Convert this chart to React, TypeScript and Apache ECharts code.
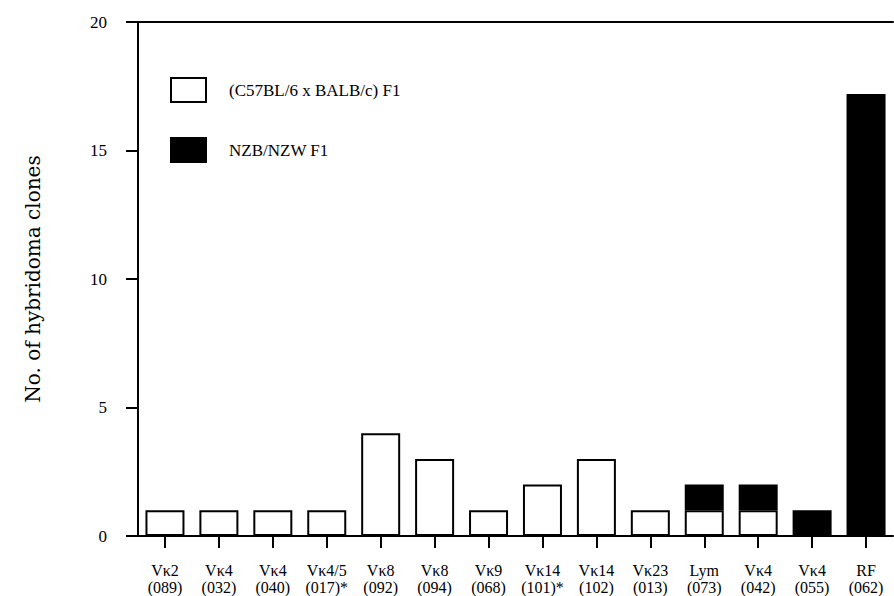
import React, { useEffect, useRef } from "react";
import * as echarts from "echarts";

const categories = [
  "Vκ2\n(089)",
  "Vκ4\n(032)",
  "Vκ4\n(040)",
  "Vκ4/5\n(017)*",
  "Vκ8\n(092)",
  "Vκ8\n(094)",
  "Vκ9\n(068)",
  "Vκ14\n(101)*",
  "Vκ14\n(102)",
  "Vκ23\n(013)",
  "Lym\n(073)",
  "Vκ4\n(042)",
  "Vκ4\n(055)",
  "RF\n(062)",
];

const c57Values = [1, 1, 1, 1, 4, 3, 1, 2, 3, 1, 1, 1, null, null];
const nzbValues = [null, null, null, null, null, null, null, null, null, null, 1, 1, 1, 17.2];

const seriesNames = ["(C57BL/6 x BALB/c) F1", "NZB/NZW F1"];
const yTicks = { min: 0, max: 20, interval: 5 };

const SERIF = "'Liberation Serif', 'Times New Roman', serif";

export default function App() {
  const ref = useRef<HTMLDivElement>(null);

  useEffect(() => {
    if (!ref.current) return;
    const chart = echarts.init(ref.current, null, { renderer: "svg" });
    chart.setOption({
      animation: false,
      backgroundColor: "#ffffff",
      grid: { left: 138, right: 1, top: 22, bottom: 60, containLabel: false },
      legend: {
        orient: "vertical",
        left: 170,
        top: 77,
        padding: 0,
        itemWidth: 35,
        itemHeight: 24,
        itemGap: 34,
        icon: "rect",
        selectedMode: false,
        textStyle: {
          fontFamily: SERIF,
          fontSize: 17,
          color: "#000",
          padding: [0, 0, 0, 18],
        },
        data: seriesNames,
      },
      xAxis: [
        {
          type: "category",
          data: categories,
          position: "bottom",
          axisLine: { show: true, lineStyle: { color: "#000", width: 2 } },
          axisTick: {
            show: true,
            alignWithLabel: true,
            length: 12,
            lineStyle: { color: "#000", width: 2 },
          },
          axisLabel: {
            interval: 0,
            margin: 26,
            fontFamily: SERIF,
            fontSize: 16,
            lineHeight: 17,
            color: "#000",
          },
          splitLine: { show: false },
        },
        {
          type: "category",
          data: categories,
          position: "top",
          axisLine: { show: true, lineStyle: { color: "#000", width: 2 } },
          axisTick: { show: false },
          axisLabel: { show: false },
          splitLine: { show: false },
        },
      ],
      yAxis: {
        type: "value",
        min: yTicks.min,
        max: yTicks.max,
        interval: yTicks.interval,
        name: "No. of hybridoma clones",
        nameLocation: "middle",
        nameGap: 95,
        nameTextStyle: {
          fontFamily: "'DejaVu Serif', serif",
          fontSize: 20,
          color: "#000",
        },
        axisLine: { show: true, lineStyle: { color: "#000", width: 2 } },
        axisTick: { show: true, length: 12, lineStyle: { color: "#000", width: 2 } },
        axisLabel: {
          margin: 31,
          fontFamily: SERIF,
          fontSize: 17,
          color: "#000",
        },
        splitLine: { show: false },
      },
      series: [
        {
          name: seriesNames[0],
          type: "bar",
          stack: "total",
          xAxisIndex: 0,
          barWidth: 39,
          data: c57Values,
          itemStyle: { color: "#ffffff", borderColor: "#000", borderWidth: 2 },
        },
        {
          name: seriesNames[1],
          type: "bar",
          stack: "total",
          xAxisIndex: 0,
          barWidth: 39,
          data: nzbValues,
          itemStyle: { color: "#000", borderColor: "#000", borderWidth: 2 },
        },
      ],
    });
    return () => chart.dispose();
  }, []);

  return (
    <div
      ref={ref}
      style={{ position: "absolute", left: 0, top: 0, width: 894, height: 596, background: "#fff" }}
    />
  );
}
